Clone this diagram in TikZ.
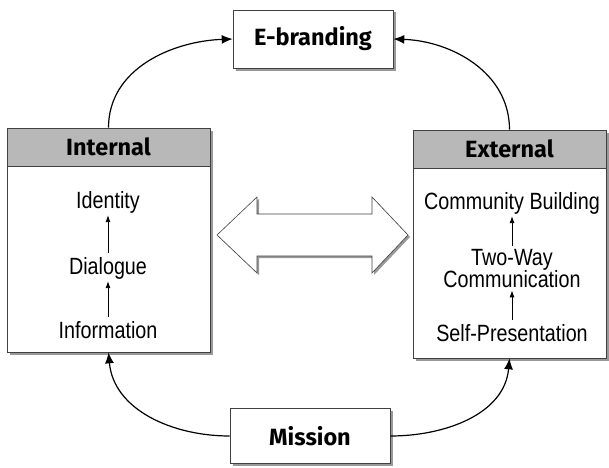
\documentclass[tikz,border=0pt]{standalone}
\usepackage{fontspec}
\setmainfont{Fira Sans}
\newfontfamily\narrowfont[FakeStretch=0.84]{Liberation Sans}
\usepackage{tikz}
\usetikzlibrary{arrows.meta, calc, shadows}

\begin{document}
\begin{tikzpicture}[x=1pt, y=1pt,
	box/.style={draw=black!75, line width=0.6pt, fill=white, inner sep=0pt,
		drop shadow={shadow xshift=2.5pt, shadow yshift=-2.5pt, fill=black!40, opacity=1}},
	head/.style={draw=black!75, line width=0.6pt, fill=black!28, inner sep=0pt},
	title/.style={font=\fontsize{23.5}{26}\selectfont\bfseries},
	item/.style={font=\narrowfont\fontsize{23.5}{22}\selectfont, align=center, inner sep=1pt},
	flow/.style={-{Latex[length=11pt, width=9pt]}, line width=1.2pt},
	upstep/.style={-{Latex[length=7pt, width=5pt]}, line width=0.9pt, shorten <=3pt, shorten >=1pt}]

	\useasboundingbox (0,0) rectangle (609,467);

	% top and bottom boxes
	\node[box, title, minimum width=160pt, minimum height=58pt] (Ebrand) at (313,428) {E-branding};
	\node[box, title, minimum width=160pt, minimum height=55pt] (Mission) at (310,31) {Mission};

	% the two sides
	\node[box, minimum width=203pt, minimum height=224pt] (Int) at (108.5,227) {};
	\node[head, title, minimum width=203pt, minimum height=38pt, anchor=north] (IntHead) at (Int.north) {Internal};
	\node[box, minimum width=193pt, minimum height=228pt] (Ext) at (509.5,223) {};
	\node[head, title, minimum width=193pt, minimum height=38pt, anchor=north] (ExtHead) at (Ext.north) {External};

	\node[item] (Identity) at (108,265) {Identity};
	\node[item] (Dialogue) at (108,199) {Dialogue};
	\node[item] (Info) at (108,137) {Information};
	\draw[upstep] (Info) -- (Dialogue);
	\draw[upstep] (Dialogue) -- (Identity);

	\node[item] (Community) at (512,264) {Community Building};
	\node[item] (TwoWay) at (512,198) {Two-Way\\Communication};
	\node[item] (SelfPres) at (512,134) {Self-Presentation};
	\draw[upstep] (SelfPres) -- (TwoWay);
	\draw[upstep] (TwoWay) -- (Community);

	% double arrow between the sides
	\coordinate (Mid) at (312.5,232);
	\draw[draw=black!75, line width=0.6pt, fill=white,
		drop shadow={shadow xshift=2pt, shadow yshift=-2pt, fill=black!40, opacity=1}]
		($(Mid)+(-95.5,0)$) -- ++(40,38) -- ++(0,-17) -- ++(115,0) -- ++(0,17)
		-- ++(36,-38) -- ++(-36,-38) -- ++(0,17) -- ++(-115,0) -- ++(0,-17) -- cycle;

	% connectors
	\draw[flow] (IntHead.north) to[out=90, in=182] (Ebrand.west);
	\draw[flow] (ExtHead.north) to[out=90, in=-2] (Ebrand.east);
	\draw[flow] (Mission.west) to[out=180, in=-85] (Int.south);
	\draw[flow] (Mission.east) to[out=0, in=-95] (Ext.south);

\end{tikzpicture}
\end{document}
